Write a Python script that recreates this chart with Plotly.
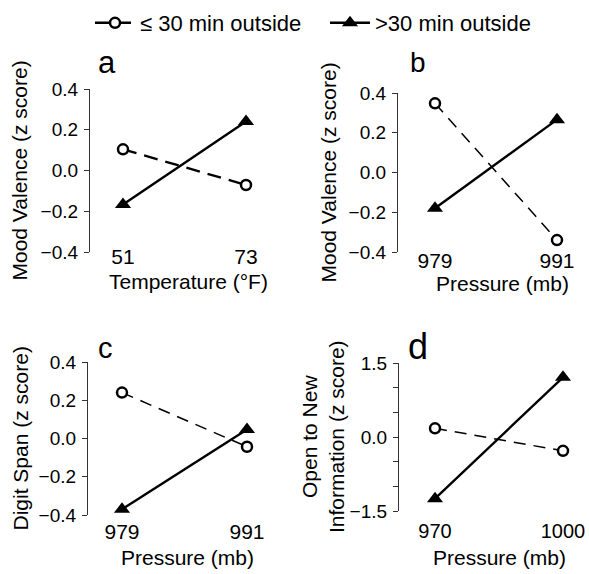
import plotly.graph_objects as go

W, H = 589, 574

series_names = ["\u2264 30 min outside", ">30 min outside"]

# Panel a: Mood valence vs temperature
a_x = [51, 73]
a_low = [0.104, -0.071]
a_high = [-0.167, 0.24]
# Panel b: Mood valence vs pressure
b_x = [979, 991]
b_low = [0.348, -0.34]
b_high = [-0.18, 0.266]
# Panel c: Digit span vs pressure
c_x = [979, 991]
c_low = [0.24, -0.043]
c_high = [-0.37, 0.047]
# Panel d: Open to new information vs pressure
d_x = [970, 1000]
d_low = [0.176, -0.28]
d_high = [-1.25, 1.21]

ticks_04 = [-0.4, -0.2, 0.0, 0.2, 0.4]
ticks_04_text = ["\u22120.4", "\u22120.2", "0.0", "0.2", "0.4"]
ticks_15 = [-1.5, -1.0, -0.5, 0.0, 0.5, 1.0, 1.5]
ticks_15_text = ["\u22121.5", "", "", "0.0", "", "", "1.5"]

panels = [
    dict(letter="a", x=a_x, low=a_low, high=a_high, ytitle="Mood Valence (z score)",
         xtitle="Temperature (\u00b0F)", yrange=[-0.4, 0.4], yticks=ticks_04, ytext=ticks_04_text),
    dict(letter="b", x=b_x, low=b_low, high=b_high, ytitle="Mood Valence (z score)",
         xtitle="Pressure (mb)", yrange=[-0.4, 0.4], yticks=ticks_04, ytext=ticks_04_text),
    dict(letter="c", x=c_x, low=c_low, high=c_high, ytitle="Digit Span (z score)",
         xtitle="Pressure (mb)", yrange=[-0.4, 0.4], yticks=ticks_04, ytext=ticks_04_text),
    dict(letter="d", x=d_x, low=d_low, high=d_high, ytitle="Open to New<br>Information (z score)",
         xtitle="Pressure (mb)", yrange=[-1.5, 1.5], yticks=ticks_15, ytext=ticks_15_text),
]

# geometry (pixels)
geom = [
    dict(ax=90, p0=123, p1=246, end=262, top=89, bot=252, xpos=241.5, xfs=21,
         xlab=188, ylabx=19, xtity=281, letx=96, lety=62, lfs=31, dash="14px,8px", dw=2.4),
    dict(ax=398, p0=435, p1=557, end=572, top=93, bot=252, xpos=245.5, xfs=21,
         xlab=502, ylabx=328, xtity=283, letx=408, lety=63, lfs=28, dash="12px,8px", dw=1.5),
    dict(ax=88, p0=122, p1=247, end=262, top=362, bot=515, xpos=516.5, xfs=21,
         xlab=187, ylabx=20, xtity=557, letx=96, lety=348, lfs=29, dash="12px,8px", dw=1.5),
    dict(ax=399, p0=435, p1=563, end=578, top=363, bot=511, xpos=516.5, xfs=20,
         xlab=499, ylabx=323, xtity=557, letx=406, lety=346, lfs=36, dash="12px,8px", dw=1.5),
]

fig = go.Figure()
annotations = []
font = "Liberation Sans, Arial, sans-serif"

for i, (p, g) in enumerate(zip(panels, geom)):
    n = "" if i == 0 else str(i + 1)
    v0, v1 = p["x"]
    scale = (v1 - v0) / (g["p1"] - g["p0"])
    xr = [v0 - (g["p0"] - g["ax"]) * scale, v1 + (g["end"] - g["p1"]) * scale]
    xd = [g["ax"] / W, g["end"] / W]
    yd = [1 - g["bot"] / H, 1 - g["top"] / H]

    fig.add_trace(go.Scatter(
        x=p["x"], y=p["low"], mode="lines+markers", name=series_names[0],
        legend="legend", showlegend=(i == 0),
        line=dict(color="black", width=g["dw"], dash=g["dash"]),
        marker=dict(symbol="circle", size=10, color="white", line=dict(color="black", width=2.5)),
        xaxis="x" + n, yaxis="y" + n, cliponaxis=False))
    fig.add_trace(go.Scatter(
        x=p["x"], y=p["high"], mode="lines+markers", name=series_names[1],
        legend="legend2", showlegend=(i == 0),
        line=dict(color="black", width=2.4),
        marker=dict(symbol="triangle-up", size=14, color="black", line=dict(width=0)),
        xaxis="x" + n, yaxis="y" + n, cliponaxis=False))

    fig.update_layout(**{
        "xaxis" + n: dict(domain=xd, range=xr, anchor="free", position=1 - g["xpos"] / H,
                          tickvals=p["x"], ticktext=[str(v) for v in p["x"]],
                          showline=False, showgrid=False, zeroline=False, ticks="",
                          tickfont=dict(size=g["xfs"], color="black", family=font)),
        "yaxis" + n: dict(domain=yd, range=p["yrange"], anchor="x" + n,
                          tickvals=p["yticks"], ticktext=p["ytext"],
                          showline=True, linecolor="#333", linewidth=1.3,
                          ticks="outside", ticklen=5, tickwidth=1.3, tickcolor="#333",
                          showgrid=False, zeroline=False, ticklabelstandoff=2,
                          tickfont=dict(size=19, color="black", family=font)),
    })

    annotations.append(dict(text=p["ytitle"], xref="paper", yref="paper",
                            x=g["ylabx"] / W, y=(yd[0] + yd[1]) / 2, textangle=-90,
                            showarrow=False, xanchor="center", yanchor="middle",
                            font=dict(size=21, color="black", family=font)))
    annotations.append(dict(text=p["xtitle"], xref="paper", yref="paper",
                            x=g["xlab"] / W, y=1 - g["xtity"] / H,
                            showarrow=False, xanchor="center", yanchor="middle",
                            font=dict(size=21, color="black", family=font)))
    annotations.append(dict(text=p["letter"], xref="paper", yref="paper",
                            x=g["letx"] / W, y=1 - g["lety"] / H,
                            showarrow=False, xanchor="left", yanchor="middle",
                            font=dict(size=g["lfs"], color="black", family=font)))

legend_common = dict(orientation="h", xanchor="left", yanchor="middle", itemwidth=40,
                     font=dict(size=22, color="black", family=font),
                     bgcolor="rgba(0,0,0,0)", borderwidth=0)

fig.update_layout(
    width=W, height=H,
    margin=dict(l=0, r=0, t=0, b=0, autoexpand=False),
    paper_bgcolor="white", plot_bgcolor="white",
    annotations=annotations,
    legend=dict(x=90 / W, y=1 - 23 / H, **legend_common),
    legend2=dict(x=325 / W, y=1 - 23 / H, **legend_common),
    font=dict(family=font, color="black"),
)

fig.write_html(
    "out.html",
    config={"displayModeBar": False},
    post_script="document.body.style.margin='0';document.body.style.padding='0';"
                "document.body.style.overflow='hidden';",
)
